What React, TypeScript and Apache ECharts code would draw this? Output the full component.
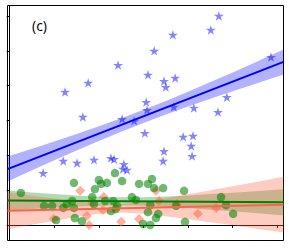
import React, { useEffect, useRef } from "react";
import * as echarts from "echarts";

// axis ranges (abstract units, ticks at integers; the original has no tick labels)
const xRange = [-0.05, 6.14];
const yRange = [-0.445, 6.3];
const xTicks = [0, 1, 2, 3, 4, 5, 6];
const yTicks = [0, 1, 2, 3, 4, 5, 6];

// blue stars
const starX = [4.69, 4.51, 3.66, 3.24, 2.43, 1.76, 1.24, 5.86, 3.10, 3.46, 3.50, 3.71, 4.87, 3.06, 3.08, 3.68, 4.13, 4.67, 1.64, 2.52, 2.79, 3.03, 3.89, 4.11, 4.07, 4.09, 3.46, 3.44, 0.75, 1.20, 1.51, 1.89, 2.27, 2.34, 2.56, 2.63, 2.54];
const starY = [6.00, 5.60, 5.46, 5.00, 4.59, 4.08, 3.82, 4.82, 4.31, 4.13, 3.96, 4.22, 3.67, 3.53, 3.30, 3.39, 3.36, 3.24, 3.10, 3.04, 2.99, 2.64, 2.53, 2.56, 2.27, 1.98, 2.12, 1.84, 1.49, 1.84, 1.78, 1.87, 1.92, 1.89, 1.75, 1.58, 1.61];

// green circles
const circX = [0.25, 0.77, 0.95, 1.20, 1.04, 1.44, 1.28, 1.40, 1.44, 1.46, 1.62, 1.85, 1.91, 2.00, 2.05, 2.18, 1.89, 2.14, 2.36, 2.52, 2.32, 2.41, 2.38, 2.27, 2.74, 2.83, 2.90, 2.99, 3.19, 3.10, 3.24, 3.44, 3.91, 3.15, 3.10, 3.33, 3.28, 3.15, 3.73, 3.93, 4.74, 4.85, 5.01];
const circY = [0.92, 0.55, 0.55, 0.49, 0.14, 1.21, 0.60, 0.69, 0.49, 0.20, 0.11, 0.80, 1.03, 1.29, 1.18, 1.21, 0.60, 0.69, 1.49, 1.26, 0.69, 0.55, 0.46, 0.40, 0.80, 0.72, 1.18, 0.03, 1.32, 1.18, 1.06, 1.06, 0.98, 0.57, 0.37, 0.32, 0.20, 0.00, 0.55, 0.09, 0.80, 0.57, 0.32];

// red diamonds
const diaX = [1.58, 2.11, 2.09, 1.73, 1.78, 0.99, 2.50, 2.90, 1.85, 3.28, 3.35, 3.75, 4.22, 4.63];
const diaY = [0.98, 0.80, 0.43, 0.26, 0.00, 0.17, 0.09, 0.17, 0.63, 0.98, 0.69, 0.60, 0.32, 0.49];

// fitted lines (end points)
const lineX = [-0.05, 6.14];
const blueLineY = [1.605, 4.68];
const greenLineY = [0.70, 0.651];
const redLineY = [0.41, 0.583];

// confidence bands
const bandX = [-0.05, 0.5, 1, 1.5, 2, 2.5, 3, 3.5, 4, 4.5, 5, 5.5, 6.14];
const blueLow = [1.245, 1.57, 1.856, 2.135, 2.409, 2.674, 2.928, 3.17, 3.401, 3.623, 3.84, 4.05, 4.32];
const blueHigh = [1.965, 2.186, 2.396, 2.613, 2.835, 3.066, 3.308, 3.562, 3.827, 4.101, 4.38, 4.666, 5.04];
const greenLow = [0.41, 0.456, 0.495, 0.529, 0.554, 0.562, 0.554, 0.526, 0.486, 0.441, 0.393, 0.343, 0.276];
const greenHigh = [0.99, 0.936, 0.889, 0.847, 0.814, 0.796, 0.798, 0.818, 0.85, 0.887, 0.927, 0.969, 1.026];
const redLow = [-0.12, 0.007, 0.121, 0.229, 0.32, 0.357, 0.321, 0.248, 0.165, 0.078, -0.01, -0.099, -0.217];
const redHigh = [0.94, 0.843, 0.757, 0.677, 0.614, 0.600, 0.669, 0.77, 0.881, 0.996, 1.112, 1.229, 1.383];

const STAR =
  "path://M0,-1L0.2245,-0.309L0.951,-0.309L0.363,0.118L0.588,0.809L0,0.382L-0.588,0.809L-0.363,0.118L-0.951,-0.309L-0.2245,-0.309Z";

function band(name: string, low: number[], high: number[], fill: string) {
  return {
    type: "custom",
    name,
    silent: true,
    data: bandX.map((x, i) => [x, low[i], high[i]]),
    encode: { x: 0, y: [1, 2] },
    renderItem: (params: any, api: any) => {
      if (params.dataIndex !== 0) return null;
      const pts: number[][] = [];
      for (let i = 0; i < bandX.length; i++) pts.push(api.coord([bandX[i], high[i]]));
      for (let i = bandX.length - 1; i >= 0; i--) pts.push(api.coord([bandX[i], low[i]]));
      return { type: "polygon", shape: { points: pts }, style: { fill, stroke: "none" } };
    },
  };
}

function fitLine(ys: number[], color: string) {
  return {
    type: "line",
    data: lineX.map((x, i) => [x, ys[i]]),
    symbol: "none",
    lineStyle: { color, width: 2 },
    silent: true,
  };
}

export default function App() {
  const ref = useRef<HTMLDivElement>(null);
  useEffect(() => {
    if (!ref.current) return;
    const chart = echarts.init(ref.current, undefined, { renderer: "svg" });
    chart.setOption({
      animation: false,
      backgroundColor: "#fff",
      grid: {
        left: 7.5,
        right: 5.5,
        top: 5.5,
        bottom: 10.5,
        show: true,
        borderColor: "#000",
        borderWidth: 1,
        backgroundColor: "transparent",
      },
      xAxis: {
        type: "value",
        min: xRange[0],
        max: xRange[1],
        splitLine: { show: false },
        axisLine: { show: true, lineStyle: { color: "#000", width: 1 } },
        axisTick: { show: true, inside: false, length: 3, customValues: xTicks, lineStyle: { color: "#000" } },
        axisLabel: { show: false },
      },
      yAxis: {
        type: "value",
        min: yRange[0],
        max: yRange[1],
        splitLine: { show: false },
        axisLine: { show: true, lineStyle: { color: "#000", width: 1 } },
        axisTick: { show: true, inside: false, length: 3, customValues: yTicks, lineStyle: { color: "#000" } },
        axisLabel: { show: false },
      },
      graphic: [
        {
          type: "text",
          left: 32,
          top: 18,
          style: {
            text: "(c)",
            fill: "#000",
            font: "normal 14px 'Open Sans', 'Liberation Sans', sans-serif",
          },
        },
      ],
      series: [
        band("blueBand", blueLow, blueHigh, "rgba(0,0,255,0.3)"),
        band("greenBand", greenLow, greenHigh, "rgba(0,128,0,0.3)"),
        band("redBand", redLow, redHigh, "rgba(255,99,71,0.33)"),
        {
          type: "scatter",
          data: starX.map((x, i) => [x, starY[i]]),
          symbol: STAR,
          symbolSize: [10, 9.5],
          itemStyle: { color: "rgba(0,0,255,0.6)" },
        },
        {
          type: "scatter",
          data: diaX.map((x, i) => [x, diaY[i]]),
          symbol: "diamond",
          symbolSize: [10, 10],
          itemStyle: { color: "rgba(255,99,71,0.65)" },
        },
        {
          type: "scatter",
          data: circX.map((x, i) => [x, circY[i]]),
          symbol: "circle",
          symbolSize: 8.5,
          itemStyle: { color: "rgba(0,128,0,0.7)" },
        },
        fitLine(blueLineY, "#0000ff"),
        fitLine(greenLineY, "#008000"),
        fitLine(redLineY, "#ff6347"),
      ],
    });
    return () => chart.dispose();
  }, []);
  return (
    <div
      ref={ref}
      style={{ position: "fixed", left: 0, top: 0, width: 289, height: 251 }}
    />
  );
}
